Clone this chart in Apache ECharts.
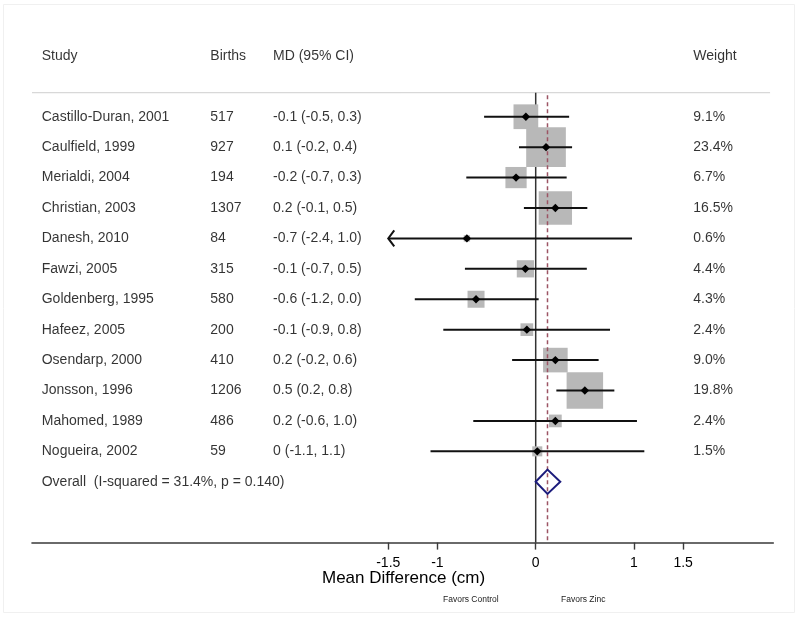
<!DOCTYPE html>
<html>
<head>
<meta charset="utf-8">
<script src="https://cdn.jsdelivr.net/npm/echarts@6/dist/echarts.min.js"></script>
<style>html,body{margin:0;padding:0;background:#fff;}#c{width:800px;height:618px;}</style>
</head>
<body>
<div id="c"></div>
<script>
// ---- data ----
const studies = ['Castillo-Duran, 2001','Caulfield, 1999','Merialdi, 2004','Christian, 2003','Danesh, 2010','Fawzi, 2005','Goldenberg, 1995','Hafeez, 2005','Osendarp, 2000','Jonsson, 1996','Mahomed, 1989','Nogueira, 2002'];
const births = ['517','927','194','1307','84','315','580','200','410','1206','486','59'];
const mdText = ['-0.1 (-0.5, 0.3)','0.1 (-0.2, 0.4)','-0.2 (-0.7, 0.3)','0.2 (-0.1, 0.5)','-0.7 (-2.4, 1.0)','-0.1 (-0.7, 0.5)','-0.6 (-1.2, 0.0)','-0.1 (-0.9, 0.8)','0.2 (-0.2, 0.6)','0.5 (0.2, 0.8)','0.2 (-0.6, 1.0)','0 (-1.1, 1.1)'];
const weightText = ['9.1%','23.4%','6.7%','16.5%','0.6%','4.4%','4.3%','2.4%','9.0%','19.8%','2.4%','1.5%'];
const md = [-0.10, 0.105, -0.20, 0.20, -0.70, -0.105, -0.607, -0.09, 0.20, 0.50, 0.20, 0.016];
const ciLow = [-0.525, -0.17, -0.706, -0.12, -2.4, -0.72, -1.23, -0.94, -0.24, 0.21, -0.635, -1.07];
const ciHigh = [0.34, 0.37, 0.315, 0.525, 0.98, 0.52, 0.03, 0.756, 0.64, 0.80, 1.03, 1.105];
const weights = [9.1, 23.4, 6.7, 16.5, 0.6, 4.4, 4.3, 2.4, 9.0, 19.8, 2.4, 1.5];
const overallLabel = 'Overall  (I-squared = 31.4%, p = 0.140)';
const overallMD = [0.12];
const overallCI = [0.0, 0.25];
const headers = ['Study', 'Births', 'MD (95% CI)', 'Weight'];
const tickValues = [-1.5, -1, 0, 1, 1.5];
const axisTitle = 'Mean Difference (cm)';
const favorLabels = ['Favors Control', 'Favors Zinc'];

// ---- layout constants ----
const FONT = '"Liberation Sans", Arial, Helvetica, sans-serif';
const X_MIN = -5.124, X_MAX = 2.417;
const CLIP_MIN = -1.5;
const COLS = { study: -5.025, births: -3.31, md: -2.672, weight: 1.603 };
const HEADER_ROW = -2, SEP_ROW = -0.79, AXIS_ROW = 14;
const BOX_K = 8.2;
const n = studies.length;
const overallRow = n;

const chart = echarts.init(document.getElementById('c'), null, { renderer: 'canvas' });

// text items
const textData = [];
const cols = [COLS.study, COLS.births, COLS.md, COLS.weight];
headers.forEach((h, j) => textData.push({ value: [cols[j], HEADER_ROW], t: h }));
for (let i = 0; i < n; i++) {
  textData.push({ value: [COLS.study, i], t: studies[i] });
  textData.push({ value: [COLS.births, i], t: births[i] });
  textData.push({ value: [COLS.md, i], t: mdText[i] });
  textData.push({ value: [COLS.weight, i], t: weightText[i] });
}
textData.push({ value: [COLS.study, overallRow], t: overallLabel });

const studyData = md.map((m, i) => [m, i, ciLow[i], ciHigh[i], weights[i]]);

const option = {
  animation: false,
  backgroundColor: '#ffffff',
  grid: { left: 32, right: 26.7, top: 55.9, bottom: 75.4, containLabel: false },
  xAxis: {
    type: 'value', min: X_MIN, max: X_MAX,
    splitLine: { show: false },
    axisLine: { show: true, onZero: false, lineStyle: { color: '#3a3a3a', width: 1.6 } },
    axisTick: { show: true, customValues: tickValues, length: 7, lineStyle: { color: '#3a3a3a', width: 1.4 } },
    axisLabel: { show: true, customValues: tickValues, margin: 14, fontSize: 14, color: '#000', fontFamily: FONT,
      formatter: v => String(v) }
  },
  yAxis: {
    type: 'value', min: HEADER_ROW, max: AXIS_ROW, inverse: true, show: false
  },
  title: [
    { text: axisTitle, left: 317, top: 564.5, textStyle: { fontSize: 17, fontWeight: 'normal', color: '#000', fontFamily: FONT } },
    { text: favorLabels[0], left: 438, top: 590.5, textStyle: { fontSize: 8.5, fontWeight: 'normal', color: '#222', fontFamily: FONT } },
    { text: favorLabels[1], left: 556, top: 590.5, textStyle: { fontSize: 8.5, fontWeight: 'normal', color: '#222', fontFamily: FONT } }
  ],
  graphic: [
    { type: 'rect', shape: { x: 3.5, y: 4.5, width: 791, height: 608 }, style: { fill: 'none', stroke: '#f0f0f0', lineWidth: 1 }, silent: true, z: -1 }
  ],
  series: [
    // separator + zero line
    {
      type: 'custom', coordinateSystem: 'cartesian2d', z: 1, silent: true,
      data: [[0, 0]],
      renderItem: (params, api) => {
        const sL = api.coord([X_MIN, SEP_ROW]);
        const sR = api.coord([2.384, SEP_ROW]);
        const z0 = api.coord([0, SEP_ROW]);
        const z1 = api.coord([0, AXIS_ROW]);
        return { type: 'group', children: [
          { type: 'line', shape: { x1: sL[0], y1: sL[1], x2: sR[0], y2: sR[1] }, style: { stroke: '#cfcfcf', lineWidth: 1 } },
          { type: 'line', shape: { x1: z0[0], y1: z0[1], x2: z1[0], y2: z1[1] }, style: { stroke: '#333', lineWidth: 1.5 } }
        ]};
      }
    },
    // boxes
    {
      type: 'custom', coordinateSystem: 'cartesian2d', z: 2, silent: true,
      data: studyData,
      encode: { x: 0, y: 1 },
      renderItem: (params, api) => {
        const c = api.coord([api.value(0), api.value(1)]);
        const h = BOX_K * Math.sqrt(api.value(4)) / 2;
        return { type: 'rect', shape: { x: c[0] - h, y: c[1] - h, width: 2 * h, height: 2 * h }, style: { fill: '#b8b8b8' } };
      }
    },
    // dashed overall line
    {
      type: 'custom', coordinateSystem: 'cartesian2d', z: 3, silent: true,
      data: [[overallMD[0], 0]],
      renderItem: (params, api) => {
        const d0 = api.coord([api.value(0), SEP_ROW + 0.08]);
        const d1 = api.coord([api.value(0), AXIS_ROW]);
        return { type: 'line', shape: { x1: d0[0], y1: d0[1], x2: d1[0], y2: d1[1] }, style: { stroke: '#9c5464', lineWidth: 1.5, lineDash: [4, 3] } };
      }
    },
    // CI lines and dots
    {
      type: 'custom', coordinateSystem: 'cartesian2d', z: 4, silent: true,
      data: studyData,
      encode: { x: 0, y: 1 },
      renderItem: (params, api) => {
        const row = api.value(1);
        const lo = api.value(2), hi = api.value(3);
        const c = api.coord([api.value(0), row]);
        const l = api.coord([Math.max(lo, CLIP_MIN), row]);
        const r = api.coord([hi, row]);
        const kids = [
          { type: 'line', shape: { x1: l[0], y1: l[1], x2: r[0], y2: r[1] }, style: { stroke: '#111', lineWidth: 2 } },
          { type: 'polygon', shape: { points: [[c[0] - 4.2, c[1]], [c[0], c[1] - 4.2], [c[0] + 4.2, c[1]], [c[0], c[1] + 4.2]] }, style: { fill: '#000' } }
        ];
        if (lo < CLIP_MIN) {
          kids.push({ type: 'polyline', shape: { points: [[l[0] + 6, l[1] - 8], [l[0], l[1]], [l[0] + 6, l[1] + 8]] }, style: { stroke: '#111', lineWidth: 2, fill: 'none' } });
        }
        return { type: 'group', children: kids };
      }
    },
    // overall diamond
    {
      type: 'custom', coordinateSystem: 'cartesian2d', z: 5, silent: true,
      data: [[overallMD[0], overallRow, overallCI[0], overallCI[1]]],
      encode: { x: 0, y: 1 },
      renderItem: (params, api) => {
        const row = api.value(1);
        const L = api.coord([api.value(2), row]);
        const R = api.coord([api.value(3), row]);
        const T = api.coord([api.value(0), row - 0.4]);
        const B = api.coord([api.value(0), row + 0.4]);
        return { type: 'polygon', shape: { points: [L, T, R, B] }, style: { fill: 'none', stroke: '#1c1c7c', lineWidth: 2 } };
      }
    },
    // table text
    {
      type: 'scatter', z: 6, silent: true, clip: false,
      symbolSize: 0,
      data: textData,
      label: {
        show: true, position: 'right', distance: 0,
        formatter: p => p.data.t,
        fontSize: 14, color: '#000', fontFamily: FONT
      }
    }
  ]
};
chart.setOption(option);
</script>
</body>
</html>
